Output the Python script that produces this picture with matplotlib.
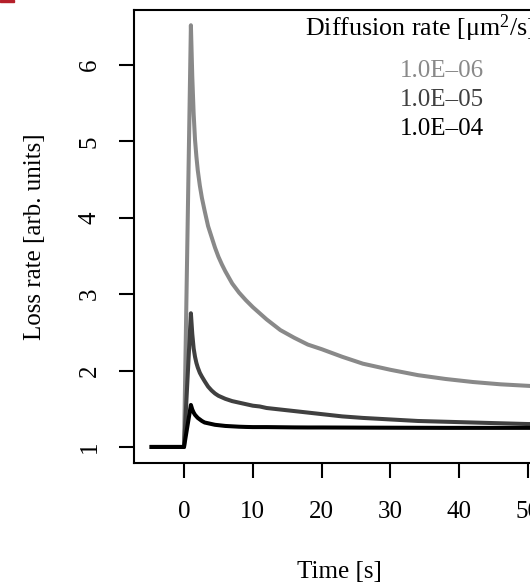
import matplotlib
matplotlib.use('Agg')
import matplotlib.pyplot as plt
from matplotlib.patches import Rectangle

plt.rcParams['font.family'] = ['Liberation Serif', 'DejaVu Serif']
plt.rcParams['mathtext.fontset'] = 'custom'
plt.rcParams['mathtext.rm'] = 'Liberation Serif'
plt.rcParams['mathtext.it'] = 'Liberation Serif:italic'

# values
time_s = [-5, 0, 1, 1.2, 1.4, 1.6, 1.8, 2, 2.3, 2.6, 3, 3.5, 4, 4.5, 5, 5.5,
          6, 7, 8, 9, 10, 11, 12, 14, 16, 18, 20, 23, 26, 30, 34, 38, 42, 46,
          50, 54]
loss_1e6 = [1, 1, 6.52, 5.85, 5.36, 5.02, 4.80, 4.62, 4.42, 4.26, 4.09, 3.89,
            3.75, 3.61, 3.49, 3.39, 3.30, 3.14, 3.02, 2.92, 2.83, 2.75, 2.67,
            2.53, 2.43, 2.34, 2.28, 2.18, 2.09, 2.01, 1.94, 1.89, 1.85, 1.82,
            1.80, 1.78]
loss_1e5 = [1, 1, 2.75, 2.48, 2.29, 2.18, 2.10, 2.04, 1.97, 1.92, 1.86, 1.79,
            1.74, 1.70, 1.67, 1.65, 1.63, 1.60, 1.58, 1.56, 1.54, 1.53, 1.51,
            1.49, 1.47, 1.45, 1.43, 1.40, 1.38, 1.36, 1.34, 1.33, 1.32, 1.31,
            1.30, 1.30]
loss_1e4 = [1, 1, 1.55, 1.49, 1.45, 1.42, 1.40, 1.38, 1.36, 1.34, 1.32, 1.31,
            1.30, 1.29, 1.285, 1.28, 1.275, 1.27, 1.265, 1.262, 1.26, 1.26,
            1.26, 1.258, 1.256, 1.255, 1.255, 1.254, 1.253, 1.252, 1.251, 1.25,
            1.25, 1.25, 1.25, 1.25]

series = [loss_1e6, loss_1e5, loss_1e4]
labels = ['1.0E\u201306', '1.0E\u201305', '1.0E\u201304']
colors = ['#898989', '#404040', '#000000']

W, H = 530, 582
fig = plt.figure(figsize=(W / 100, H / 100), dpi=100)

# axes placed in pixels; right side runs off the figure like the original
left_px, top_px, bottom_px = 134, 9.5, 463
xlim = (-7.27, 54.3)
ylim = (0.79, 6.726)
px_per_x = 6.88
width_px = (xlim[1] - xlim[0]) * px_per_x
ax = fig.add_axes([left_px / W, (H - bottom_px) / H, width_px / W,
                   (bottom_px - top_px) / H])

for vals, c in zip(series, colors):
    ax.plot(time_s, vals, color=c, lw=2.9, solid_capstyle='butt',
            solid_joinstyle='round')

ax.set_xlim(*xlim)
ax.set_ylim(*ylim)
ax.set_xticks([0, 10, 20, 30, 40, 50])
ax.set_yticks([1, 2, 3, 4, 5, 6])
for s in ax.spines.values():
    s.set_linewidth(1.5)
ax.tick_params(length=11, width=1.5, labelsize=18)
ax.tick_params(axis='x', pad=16)
ax.tick_params(axis='y', labelrotation=90, pad=13)
for t in ax.get_yticklabels():
    t.set_va('center')

ax.set_xlabel('Time [s]', fontsize=18, labelpad=28)
ax.xaxis.label.set_x((339 - left_px) / width_px)
ax.set_ylabel('Loss rate [arb. units]', fontsize=18, labelpad=23.5)

# legend drawn as text only
fig.text(305 / W, 1 - 28 / H, 'Diffusion rate [\u03bcm$^{2}$/s]', fontsize=18.7,
         ha='left', va='center')
for i, (lab, c) in enumerate(zip(labels, colors)):
    fig.text(400 / W, 1 - (71 + 29 * i) / H, lab, fontsize=18, color=c,
             ha='left', va='center')

fig.patches.append(Rectangle((0, 1 - 2 / H), 14 / W, 2 / H,
                             transform=fig.transFigure, color='#b5202a'))

fig.savefig('out.png', dpi=100)
